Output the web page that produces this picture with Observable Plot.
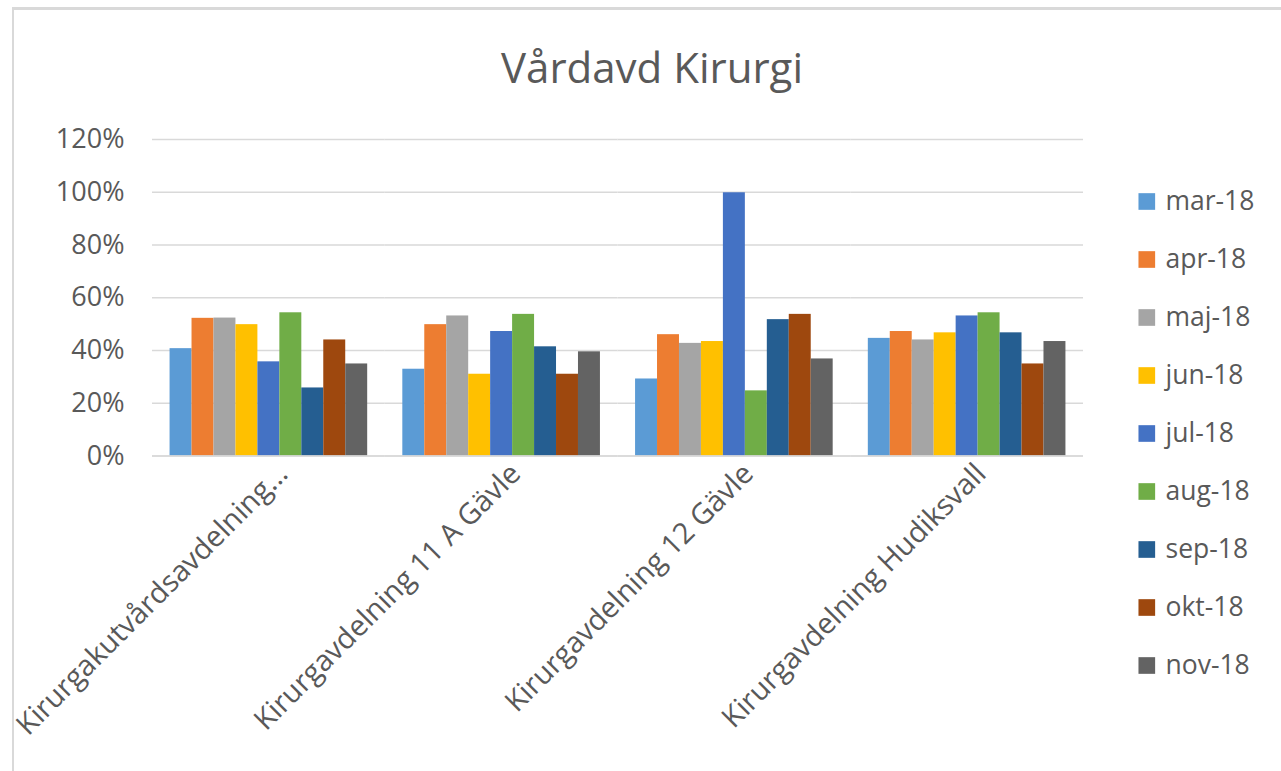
<!DOCTYPE html>
<html>
<head>
<meta charset="utf-8">
<script src="https://cdn.jsdelivr.net/npm/d3@7"></script>
<script src="https://cdn.jsdelivr.net/npm/@observablehq/plot@0.6"></script>
<style>
  html, body { margin: 0; padding: 0; background: #fff; }
  #wrap { position: relative; width: 1281px; height: 771px; overflow: hidden; background: #fff; font-family: "Open Sans", Lato, sans-serif; color: #595959; }
  #frame { position: absolute; left: 12px; top: 7px; width: 1300px; height: 800px; border-top: 3px solid #d9d9d9; border-left: 2px solid #d9d9d9; }
  #title { position: absolute; left: 352px; width: 600px; top: 39px; text-align: center; font-size: 42px; line-height: 56px; color: #595959; }
  #main { position: absolute; left: 0; top: 0; }
  #legend { position: absolute; left: 1120px; top: 0; }
</style>
</head>
<body>
<div id="wrap">
  <div id="frame"></div>
  <div id="main"></div>
  <div id="legend"></div>
  <div id="title"></div>
</div>
<script>
const titleText = "Vårdavd Kirurgi";
const wards = ["Kirurgakutvårdsavdelning...", "Kirurgavdelning 11 A Gävle", "Kirurgavdelning 12 Gävle", "Kirurgavdelning Hudiksvall"];
const months = ["mar-18", "apr-18", "maj-18", "jun-18", "jul-18", "aug-18", "sep-18", "okt-18", "nov-18"];
const colors = ["#5B9BD5", "#ED7D31", "#A5A5A5", "#FFC000", "#4472C4", "#70AD47", "#255E91", "#9E480E", "#636363"];
const yTicks = [0, 0.2, 0.4, 0.6, 0.8, 1.0, 1.2];

// values per month, one per ward (in ward order)
const mar18 = [0.407, 0.329, 0.292, 0.446];
const apr18 = [0.522, 0.498, 0.460, 0.472];
const maj18 = [0.523, 0.531, 0.427, 0.440];
const jun18 = [0.498, 0.310, 0.434, 0.467];
const jul18 = [0.357, 0.472, 0.998, 0.531];
const aug18 = [0.543, 0.537, 0.247, 0.543];
const sep18 = [0.258, 0.414, 0.517, 0.467];
const okt18 = [0.440, 0.310, 0.537, 0.349];
const nov18 = [0.349, 0.395, 0.368, 0.434];
const series = [mar18, apr18, maj18, jun18, jul18, aug18, sep18, okt18, nov18];

const data = [];
months.forEach((m, i) => wards.forEach((w, j) => data.push({ward: w, month: m, value: series[i][j]})));

document.getElementById("title").textContent = titleText;

const font = "'Open Sans', Lato, sans-serif";
const colorScale = {domain: months, range: colors};

const chart = Plot.plot({
  width: 1100,
  height: 771,
  marginLeft: 152,
  marginRight: 17,
  marginTop: 139,
  marginBottom: 315.5,
  style: {fontFamily: font, color: "#595959", background: "transparent"},
  fx: {domain: wards, paddingInner: 0, paddingOuter: 0, round: false, label: null},
  x: {domain: months, paddingInner: 0, paddingOuter: 0.8, round: false, axis: null},
  y: {domain: [0, 1.2], axis: null},
  color: colorScale,
  marks: [
    Plot.gridY(yTicks, {stroke: "#d9d9d9", strokeOpacity: 1, strokeWidth: 1.5}),
    Plot.barY(data, {fx: "ward", x: "month", y: "value", fill: "month", inset: 0}),
    Plot.ruleY([0], {stroke: "#d9d9d9", strokeWidth: 1.5}),
    Plot.axisY(yTicks, {tickFormat: d3.format(".0%"), tickSize: 0, tickPadding: 28, fontSize: 27, fill: "#595959", label: null}),
    Plot.axisFx({anchor: "bottom", tickRotate: -45, tickSize: 0, tickPadding: 13, dx: 14, fontSize: 29, fill: "#595959", label: null})
  ]
});
document.getElementById("main").appendChild(chart);

const legend = Plot.plot({
  width: 161,
  height: 771,
  margin: 0,
  style: {fontFamily: font, color: "#595959", background: "transparent"},
  y: {type: "point", domain: months, range: [197.7, 668.3], padding: 0, axis: null},
  x: {axis: null},
  color: colorScale,
  marks: [
    Plot.dot(months, {y: d => d, fill: d => d, symbol: "square", r: 9.4, frameAnchor: "left", dx: 26.3}),
    Plot.text(months, {y: d => d, text: d => d, frameAnchor: "left", textAnchor: "start", dx: 45, fontSize: 26.5, fill: "#595959"})
  ]
});
document.getElementById("legend").appendChild(legend);
</script>
</body>
</html>
